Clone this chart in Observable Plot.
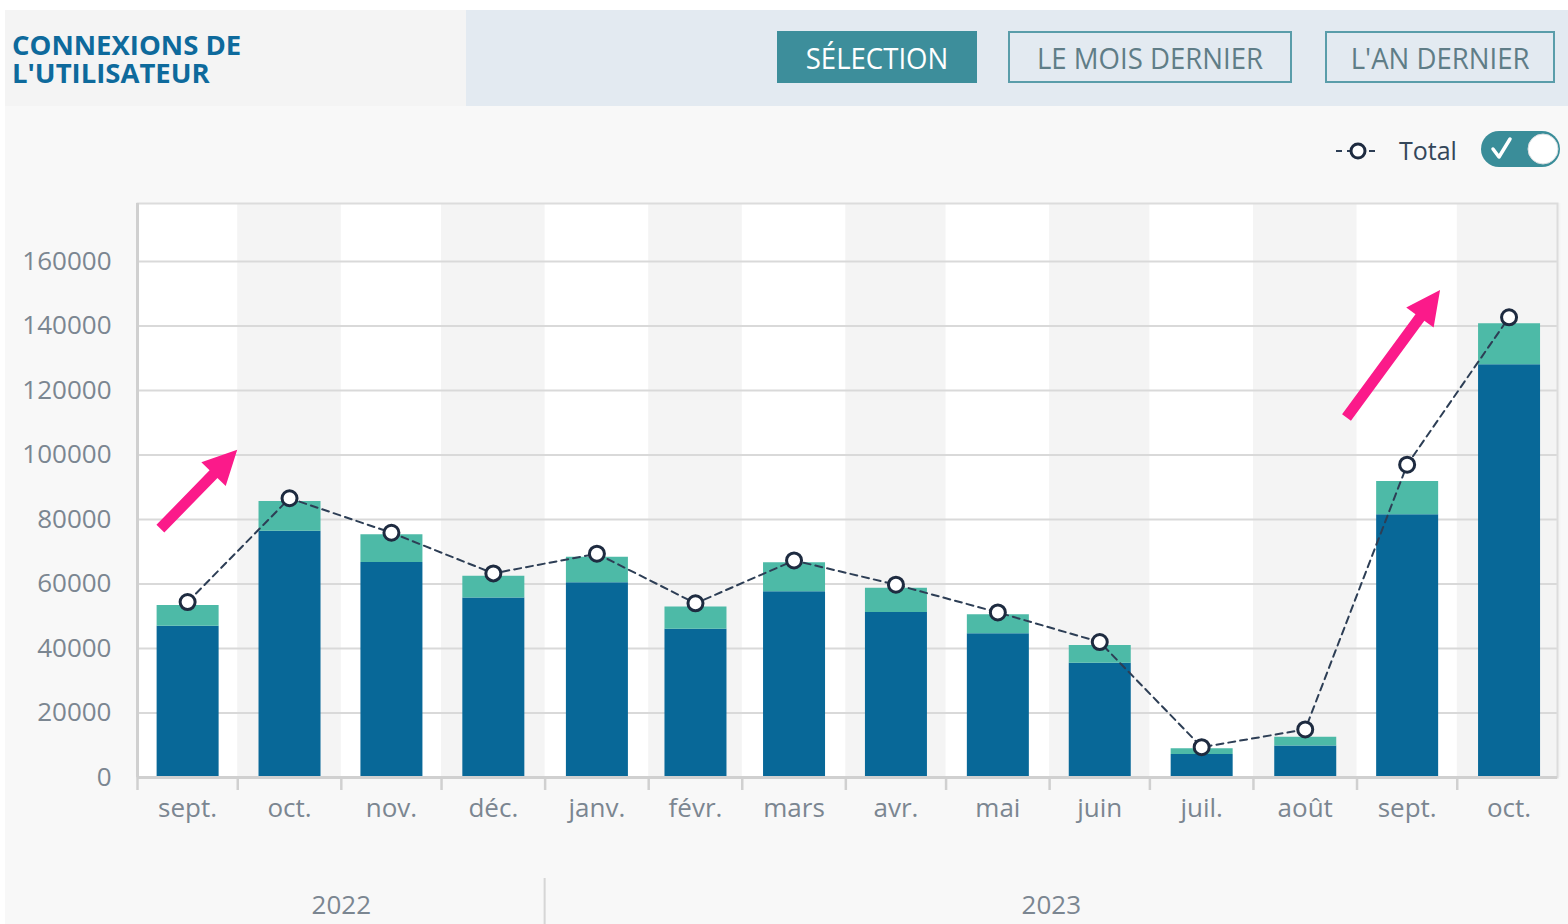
<!DOCTYPE html>
<html>
<head>
<meta charset="utf-8">
<script src="https://cdn.jsdelivr.net/npm/d3@7"></script>
<script src="https://cdn.jsdelivr.net/npm/@observablehq/plot@0.6"></script>
<style>
  html, body { margin: 0; padding: 0; background: #ffffff; width: 1568px; height: 924px; overflow: hidden; font-family: "Open Sans", sans-serif; }
  #page { position: absolute; left: 5px; top: 10px; width: 1563px; height: 914px; background: #f8f8f8; }
  #hdrL { position: absolute; left: 5px; top: 10px; width: 461px; height: 96px; background: #f4f4f4; }
  #hdrR { position: absolute; left: 466px; top: 10px; width: 1102px; height: 96px; background: #e3eaf1; }
  .title { position: absolute; left: 12px; height: 28px; font-size: 27.5px; font-weight: 700; line-height: 28px; color: #0e6a9c; white-space: nowrap; }
  #t1 { top: 31px; }
  #t2 { top: 59px; }
  .btn { position: absolute; top: 31px; height: 52px; box-sizing: border-box; display: flex; align-items: center; justify-content: center; font-size: 29px; }
  .btn span { display: inline-block; transform: scaleX(0.95); white-space: nowrap; }
  #b1 { left: 777px; width: 200px; background: #3d8e9b; color: #ffffff; }
  #b2 { left: 1008px; width: 284px; border: 2px solid #5a9daa; color: #5f7d87; }
  #b3 { left: 1325px; width: 230px; border: 2px solid #5a9daa; color: #5f7d87; }
  #legend { position: absolute; left: 1330px; top: 126px; }
  #chart { position: absolute; left: 0; top: 180px; }
</style>
</head>
<body>
<div id="page"></div>
<div id="hdrL"></div>
<div id="hdrR"></div>
<div class="title" id="t1">CONNEXIONS DE</div>
<div class="title" id="t2">L'UTILISATEUR</div>
<div class="btn" id="b1"><span>SÉLECTION</span></div>
<div class="btn" id="b2"><span>LE MOIS DERNIER</span></div>
<div class="btn" id="b3"><span>L'AN DERNIER</span></div>
<svg id="legend" width="238" height="50">
  <line x1="6" y1="25" x2="50" y2="25" stroke="#2d3e55" stroke-width="2" stroke-dasharray="6,5"></line>
  <circle cx="28" cy="25" r="7" fill="#ffffff" stroke="#1e2b40" stroke-width="3"></circle>
  <text x="69" y="34" font-size="25" fill="#34475a" font-family="Open Sans">Total</text>
  <rect x="151" y="5" width="79" height="36" rx="18" fill="#3a8d99"></rect>
  <circle cx="213" cy="23" r="15" fill="#ffffff" stroke="#d8dde0" stroke-width="1"></circle>
  <path d="M163 23 L169 31 L180 13" fill="none" stroke="#ffffff" stroke-width="3.5" stroke-linecap="round" stroke-linejoin="round"></path>
</svg>
<div id="chart"></div>
<script>
// ---- data ----
const monthLabels = ["sept.", "oct.", "nov.", "déc.", "janv.", "févr.", "mars", "avr.", "mai", "juin", "juil.", "août", "sept.", "oct."];
const monthStarts = ["2022-09-01", "2022-10-01", "2022-11-01", "2022-12-01", "2023-01-01", "2023-02-01", "2023-03-01", "2023-04-01", "2023-05-01", "2023-06-01", "2023-07-01", "2023-08-01", "2023-09-01", "2023-10-01"];
const darkValues  = [46900, 76400, 66700, 55700, 60400, 46000, 57600, 51200, 44600, 35400, 7100, 9800, 81500, 128000];
const tealValues  = [6400, 9200, 8600, 6700, 7900, 6900, 9000, 7500, 5900, 5500, 1800, 2700, 10300, 12700];
const totalValues = [54400, 86600, 75900, 63300, 69400, 54000, 67300, 59800, 51200, 42000, 9400, 14900, 97000, 142700];
const yTicks = [0, 20000, 40000, 60000, 80000, 100000, 120000, 140000, 160000];
const yearLabels = ["2022", "2023"];
const yearStarts = ["2022-09-01", "2023-01-01"];
const yearEnds = ["2023-01-01", "2023-10-31"];
const domainStart = "2022-09-01";
const domainEnd = "2023-10-31";
// annotation arrows (data coordinates: date, value)
const arrowFrom = [["2022-09-08", 77000], ["2023-08-29", 111500]];
const arrowTo   = [["2022-10-01", 101500], ["2023-09-26", 151000]];

// ---- derived ----
const parse = d3.utcParse("%Y-%m-%d");
const months = monthStarts.map((s, i) => {
  const start = parse(s);
  const end = d3.utcMonth.offset(start, 1);
  return {
    start, end,
    mid: new Date((+start + +end) / 2),
    label: monthLabels[i],
    dark: darkValues[i],
    teal: tealValues[i],
    stack: darkValues[i] + tealValues[i],
    total: totalValues[i],
    odd: i % 2 === 1
  };
});
const x0 = parse(domainStart), x1 = parse(domainEnd);
const years = yearLabels.map((y, i) => {
  const s = parse(yearStarts[i]), e = parse(yearEnds[i]);
  return {label: y, start: s, mid: new Date((+s + +e) / 2)};
});
const arrows = arrowFrom.map((a, i) => ({
  x1: parse(a[0]), y1: a[1], x2: parse(arrowTo[i][0]), y2: arrowTo[i][1]
}));

const textColor = "#7b8691";

const yearSeparators = (index, scales, values, dims) => {
  const g = d3.create("svg:g");
  years.slice(1).forEach(y => {
    const x = scales.x(y.start);
    g.append("line")
      .attr("x1", x).attr("x2", x)
      .attr("y1", dims.height - dims.marginBottom + 101)
      .attr("y2", dims.height)
      .attr("stroke", "#d6d6d6").attr("stroke-width", 2);
  });
  return g.node();
};

const arrowMark = (index, scales, values, dims) => {
  const g = d3.create("svg:g");
  const shaftW = 11, headW = 34, headL = 34;
  arrows.forEach(a => {
    const ax = scales.x(a.x1), ay = scales.y(a.y1);
    const bx = scales.x(a.x2), by = scales.y(a.y2);
    const dx = bx - ax, dy = by - ay, L = Math.hypot(dx, dy);
    const ux = dx / L, uy = dy / L, px = -uy, py = ux;
    const cx = bx - ux * headL, cy = by - uy * headL;
    const pts = [
      [ax + px * shaftW / 2, ay + py * shaftW / 2],
      [cx + px * shaftW / 2, cy + py * shaftW / 2],
      [cx + px * headW / 2, cy + py * headW / 2],
      [bx, by],
      [cx - px * headW / 2, cy - py * headW / 2],
      [cx - px * shaftW / 2, cy - py * shaftW / 2],
      [ax - px * shaftW / 2, ay - py * shaftW / 2]
    ];
    g.append("polygon").attr("points", pts.map(p => p.join(",")).join(" ")).attr("fill", "#fb1a8a");
  });
  return g.node();
};

const chart = Plot.plot({
  width: 1568,
  height: 744,
  marginLeft: 137,
  marginRight: 11,
  marginTop: 23,
  marginBottom: 147,
  style: {background: "transparent", fontFamily: "Open Sans, sans-serif", overflow: "visible"},
  x: {type: "utc", domain: [x0, x1], axis: null},
  y: {domain: [0, 178000], axis: null},
  marks: [
    Plot.frame({fill: "#ffffff"}),
    Plot.rect(months.filter(d => d.odd), {x1: "start", x2: "end", fill: "#f4f4f4"}),
    Plot.gridY(yTicks, {stroke: "#d9d9d9", strokeOpacity: 1, strokeWidth: 2}),
    Plot.ruleX(months, {x: "mid", y1: 0, y2: "dark", stroke: "#086898", strokeWidth: 62}),
    Plot.ruleX(months, {x: "mid", y1: "dark", y2: "stack", stroke: "#4dbaa7", strokeWidth: 62}),
    Plot.line(months, {x: "mid", y: "total", stroke: "#2d3e55", strokeWidth: 2, strokeDasharray: "7,5"}),
    Plot.dot(months, {x: "mid", y: "total", r: 7.5, fill: "#ffffff", stroke: "#1e2b40", strokeWidth: 3}),
    Plot.frame({stroke: "#dcdcdc", strokeWidth: 2}),
    Plot.ruleY([0], {stroke: "#d0d0d0", strokeWidth: 3}),
    Plot.ruleX([x0], {stroke: "#d0d0d0", strokeWidth: 3}),
    Plot.axisY(yTicks, {tickSize: 0, tickPadding: 26, tickFormat: d3.format("d"), fontSize: 26, fill: textColor}),
    Plot.axisX(months.map(d => d.start), {tickSize: 13, tickFormat: () => "", stroke: "#d0d0d0", strokeWidth: 2.5}),
    Plot.text(months, {x: "mid", text: "label", frameAnchor: "bottom", dy: 39, fontSize: 26, fill: textColor}),
    Plot.text(years, {x: "mid", text: "label", frameAnchor: "bottom", dy: 136, fontSize: 26, fill: textColor}),
    yearSeparators,
    arrowMark
  ]
});
document.getElementById("chart").appendChild(chart);
</script>
</body>
</html>
